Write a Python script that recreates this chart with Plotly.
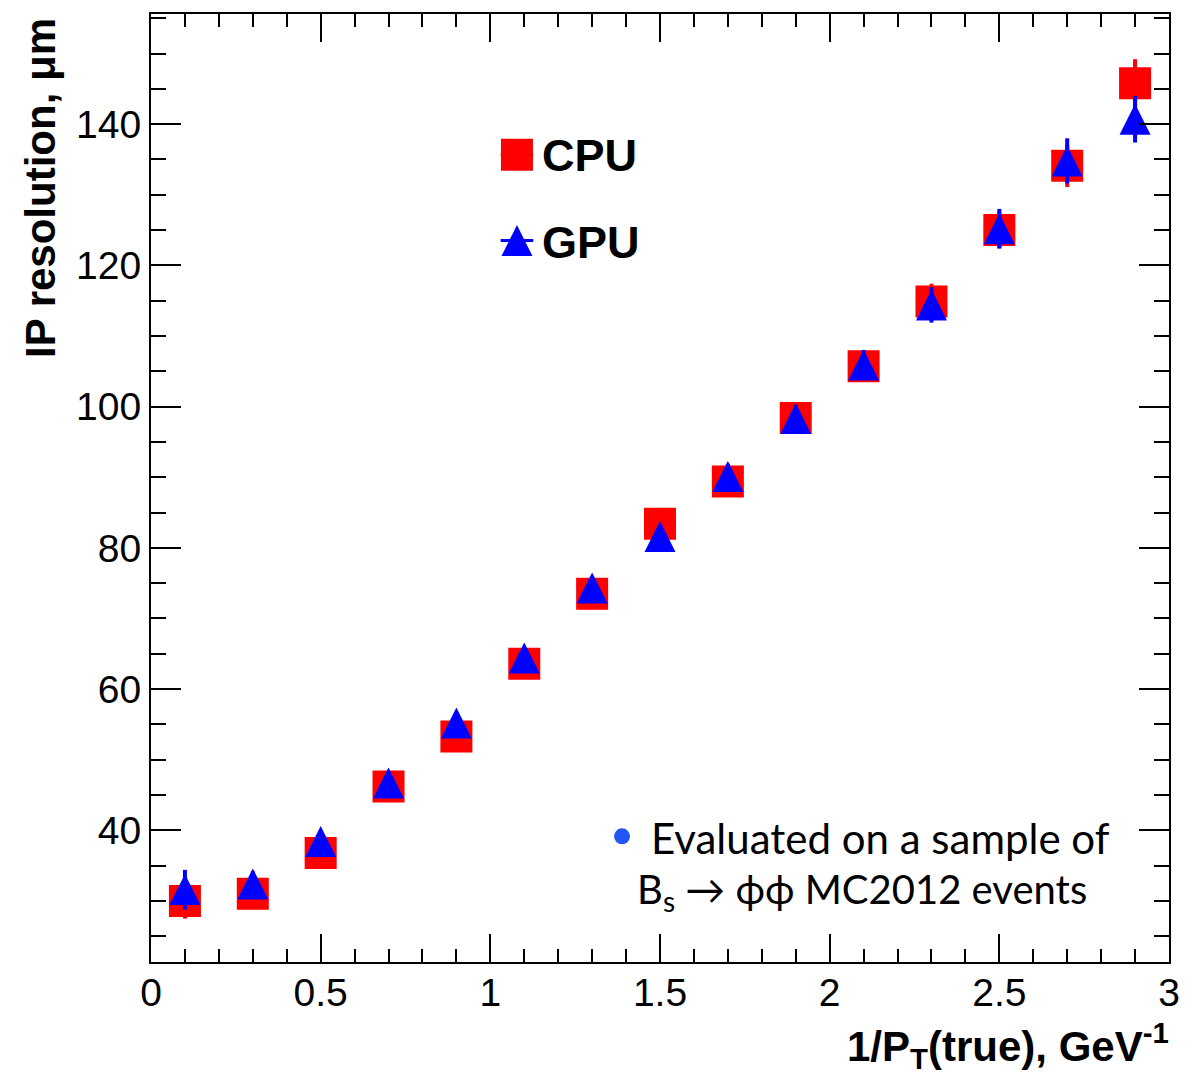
import plotly.graph_objects as go

# ---- data ----
inv_pt = [0.1, 0.3, 0.5, 0.7, 0.9, 1.1, 1.3, 1.5, 1.7, 1.9, 2.1, 2.3, 2.5, 2.7, 2.9]
cpu_res = [30.0, 31.0, 36.8, 46.2, 53.3, 63.6, 73.5, 83.4, 89.4, 98.4, 105.7, 114.9, 125.0, 134.1, 145.8]
cpu_err = [2.5, 1.8, 1.6, 1.5, 1.5, 1.5, 1.6, 1.7, 1.8, 1.9, 2.1, 2.5, 2.6, 3.0, 3.4]
gpu_res = [31.6, 32.4, 38.4, 46.7, 55.2, 64.4, 74.3, 81.6, 90.1, 98.3, 105.9, 114.4, 125.2, 134.8, 140.7]
gpu_err = [2.8, 1.8, 1.6, 1.5, 1.5, 1.5, 1.6, 1.7, 1.8, 1.9, 2.1, 2.5, 2.8, 3.2, 3.3]
series_names = ["CPU", "GPU"]
x_tickvals = [0, 0.5, 1, 1.5, 2, 2.5, 3]
x_ticktext = ["0", "0.5", "1", "1.5", "2", "2.5", "3"]

RED = "#ff0000"
BLUE = "#0000ff"
TRI_SIZE = 31

fig = go.Figure()

fig.add_trace(go.Scatter(
    x=inv_pt, y=cpu_res, mode="markers", name=series_names[0],
    marker=dict(symbol="square", size=32, color=RED, line=dict(width=0)),
    error_y=dict(type="data", array=cpu_err, visible=True, color=RED, thickness=4, width=0),
    showlegend=False,
))
fig.add_trace(go.Scatter(
    x=inv_pt, y=gpu_res, mode="markers", name=series_names[1],
    marker=dict(symbol="arrow-down", angle=180, standoff=TRI_SIZE / 2, size=TRI_SIZE,
                color=BLUE, line=dict(width=0)),
    error_y=dict(type="data", array=gpu_err, visible=True, color=BLUE, thickness=4, width=0),
    showlegend=False,
))

# ---- custom legend on an overlay axis (paper-like 0..1) ----
leg_x = 0.3595
leg_y = [0.8516, 0.761]
for yy, col in zip(leg_y, [RED, BLUE]):
    fig.add_trace(go.Scatter(x=[leg_x - 0.016, leg_x + 0.016], y=[yy, yy], mode="lines",
                             line=dict(color=col, width=3), xaxis="x2", yaxis="y2",
                             showlegend=False, hoverinfo="skip", cliponaxis=False))
fig.add_trace(go.Scatter(x=[leg_x], y=[leg_y[0]], mode="markers", xaxis="x2", yaxis="y2",
                         marker=dict(symbol="square", size=32, color=RED), showlegend=False,
                         hoverinfo="skip", cliponaxis=False))
fig.add_trace(go.Scatter(x=[leg_x], y=[leg_y[1]], mode="markers", xaxis="x2", yaxis="y2",
                         marker=dict(symbol="arrow-down", angle=180, standoff=TRI_SIZE / 2,
                                     size=TRI_SIZE, color=BLUE), showlegend=False,
                         hoverinfo="skip", cliponaxis=False))
# bullet
fig.add_trace(go.Scatter(x=[0.4627], y=[0.1326], mode="markers", xaxis="x2", yaxis="y2",
                         marker=dict(symbol="circle", size=16, color="#2255f5"), showlegend=False,
                         hoverinfo="skip", cliponaxis=False))

annotations = [
    dict(text="<b>" + series_names[0] + "</b>", x=0.3821, y=0.8505, xanchor="left", yanchor="middle",
         font=dict(family="Liberation Sans", size=45, color="black")),
    dict(text="<b>" + series_names[1] + "</b>", x=0.3821, y=0.7589, xanchor="left", yanchor="middle",
         font=dict(family="Liberation Sans", size=45, color="black")),
    dict(text="Evaluated on a sample of", x=0.4892, y=0.1305, xanchor="left", yanchor="middle",
         font=dict(family="Lato", size=42, color="black")),
    dict(text="B<sub>s</sub> \u2192 \u03d5\u03d5 MC2012 events", x=0.4754, y=0.0745, xanchor="left",
         yanchor="middle", font=dict(family="Lato", size=40, color="black")),
    dict(text="<b>IP resolution, \u03bcm</b>", textangle=-90, x=-0.108, y=0.998, xanchor="center",
         yanchor="top", font=dict(family="Liberation Sans", size=42, color="black")),
    dict(text="<b>1/P<sub>T</sub>(true), GeV<sup>-1</sup></b>", x=1.002, y=-0.0884, xanchor="right",
         yanchor="middle", font=dict(family="Liberation Sans", size=42, color="black")),
]
for a in annotations:
    a.update(xref="paper", yref="paper", showarrow=False)

axis_common = dict(
    showline=True, linecolor="black", linewidth=2, mirror="allticks",
    ticks="inside", tickcolor="black", tickwidth=2,
    showgrid=False, zeroline=False,
    tickfont=dict(family="Liberation Sans", size=39, color="black"),
)

fig.update_layout(
    width=1202, height=1074,
    margin=dict(l=151, r=33, t=12, b=112),
    paper_bgcolor="white", plot_bgcolor="white",
    xaxis=dict(range=[0, 3], tickmode="array", tickvals=x_tickvals, ticktext=x_ticktext,
               ticklen=28, ticklabelstandoff=-5,
               minor=dict(dtick=0.1, ticks="inside", ticklen=13, tickcolor="black",
                          tickwidth=2, showgrid=False),
               **axis_common),
    yaxis=dict(range=[21.35, 155.6], tick0=0, dtick=20, ticklen=30,
               minor=dict(dtick=5, ticks="inside", ticklen=15, tickcolor="black", tickwidth=2,
                          showgrid=False),
               **axis_common),
    xaxis2=dict(range=[0, 1], overlaying="x", visible=False, anchor="y2"),
    yaxis2=dict(range=[0, 1], overlaying="y", visible=False, anchor="x2"),
    annotations=annotations,
    showlegend=False,
)

fig.write_html("out.html")
